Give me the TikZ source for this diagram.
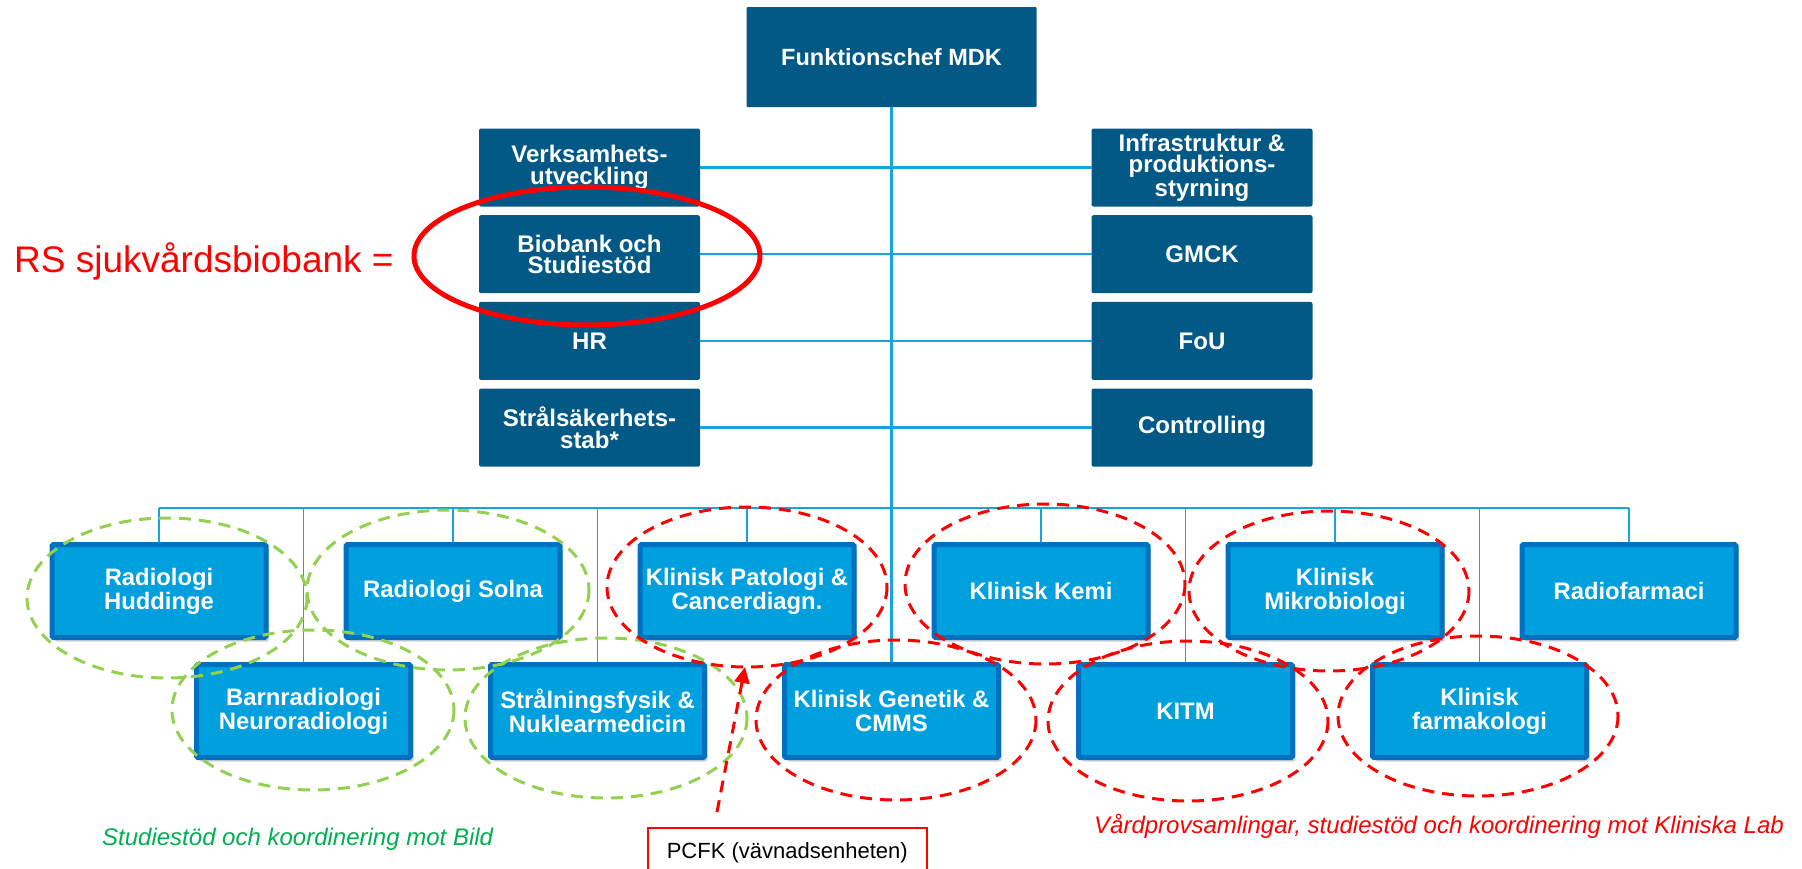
\documentclass[tikz,border=0pt]{standalone}
\usepackage{fontspec}
\setmainfont{Liberation Sans}
\usepackage{tikz}
\usetikzlibrary{positioning, arrows.meta, shadows}

\definecolor{mdkdark}{RGB}{3,89,134}
\definecolor{unitfill}{RGB}{0,160,223}
\definecolor{unitline}{RGB}{0,112,192}
\definecolor{linkblue}{RGB}{20,165,225}
\definecolor{ringgreen}{RGB}{146,208,80}
\definecolor{textgreen}{RGB}{0,176,80}

\begin{document}
\begin{tikzpicture}[x=1pt, y=-1pt]

	\tikzstyle{chefblock} = [rectangle, fill=mdkdark, text=white, minimum width=290pt, minimum height=100pt, inner sep=0pt, outer sep=0pt, rounded corners=1pt, align=center, font=\bfseries\fontsize{23.5}{24}\selectfont]
	\tikzstyle{staff} = [rectangle, fill=mdkdark, text=white, minimum width=221pt, minimum height=78pt, inner sep=0pt, outer sep=0pt, rounded corners=2pt, align=center, font=\bfseries\fontsize{24}{21.5}\selectfont]
	\tikzstyle{unit} = [rectangle, draw=unitline, line width=5pt, fill=unitfill, text=white, minimum width=214pt, minimum height=93pt, inner sep=0pt, rounded corners=1.5pt, align=center, drop shadow={shadow xshift=3pt, shadow yshift=-4pt, opacity=0.35}, font=\bfseries\fontsize{23.8}{24}\selectfont]
	\tikzstyle{line} = [draw=linkblue, line width=2.5pt]
	\tikzstyle{thinline} = [draw=linkblue, line width=1.6pt]
	\tikzstyle{greenring} = [draw=ringgreen, line width=3pt, dash pattern=on 12pt off 8pt]
	\tikzstyle{redring} = [draw=red, line width=3pt, dash pattern=on 12pt off 8pt]
	\tikzstyle{pointer} = [draw=red, line width=3pt, dash pattern=on 12pt off 8pt, -{Triangle[length=16pt, width=15pt]}]

	\useasboundingbox (0,0) rectangle (1802,868);

	% ledning och stab
	\node [chefblock] (chef) at (891.5,57) {Funktionschef MDK};
	\node [staff] (vu) at (589.5,167.5) {Verksamhets-\\utveckling};
	\node [staff, below=8.7pt of vu] (bio) {Biobank och\\Studiestöd};
	\node [staff, below=8.7pt of bio] (hr) {HR};
	\node [staff, below=8.7pt of hr] (stab) {Strålsäkerhets-\\stab*};
	\node [staff] (infra) at (1202,167.5) {Infrastruktur \&\\produktions-\\styrning};
	\node [staff, below=8.7pt of infra] (gmck) {GMCK};
	\node [staff, below=8.7pt of gmck] (fou) {FoU};
	\node [staff, below=8.7pt of fou] (ctrl) {Controlling};

	% funktionsområden
	\coordinate (bus) at (0,508);
	\node [unit] (hud) at (159,591) {Radiologi\\Huddinge};
	\node [unit, right=75pt of hud] (sol) {Radiologi Solna};
	\node [unit, right=75pt of sol] (pat) {Klinisk Patologi \&\\Cancerdiagn.};
	\node [unit, right=75pt of pat] (kemi) {Klinisk Kemi};
	\node [unit, right=75pt of kemi] (mikro) {Klinisk\\Mikrobiologi};
	\node [unit, right=75pt of mikro] (rf) {Radiofarmaci};
	\node [unit] (barn) at (303.5,711) {Barnradiologi\\Neuroradiologi};
	\node [unit, right=75pt of barn] (stral) {Strålningsfysik \&\\Nuklearmedicin};
	\node [unit, right=75pt of stral] (gen) {Klinisk Genetik \&\\CMMS};
	\node [unit, right=75pt of gen] (kitm) {KITM};
	\node [unit, right=75pt of kitm] (farm) {Klinisk\\farmakologi};

	\path [line] (chef.south) -- (gen.north);
	\path [line] (vu.east) -- (infra.west);
	\path [line] (bio.east) -- (gmck.west);
	\path [line] (hr.east) -- (fou.west);
	\path [line] (stab.east) -- (ctrl.west);
	\path [thinline] (hud.north |- bus) -- (rf.north |- bus);
	\foreach \b in {hud,sol,pat,kemi,mikro,rf,barn,stral,kitm,farm}
		\path [thinline] (\b.north |- bus) -- (\b.north);

	% markeringar
	\draw [greenring] (167,598) ellipse [x radius=140, y radius=80];
	\draw [greenring] (448,590) ellipse [x radius=141, y radius=80];
	\draw [greenring] (313,710) ellipse [x radius=141, y radius=80];
	\draw [greenring] (606,718) ellipse [x radius=141, y radius=80];
	\draw [redring] (747,587) ellipse [x radius=140, y radius=80];
	\draw [redring] (1045,584) ellipse [x radius=140, y radius=80];
	\draw [redring] (1329,591) ellipse [x radius=140, y radius=80];
	\draw [redring] (896,720) ellipse [x radius=140, y radius=80];
	\draw [redring] (1188,721) ellipse [x radius=140, y radius=80];
	\draw [redring] (1478,716) ellipse [x radius=140, y radius=80];
	\draw [red, line width=5pt] (587,256) ellipse [x radius=173, y radius=69];

	\node [anchor=base west, inner sep=0pt, text=red, font=\fontsize{37}{40}\selectfont] (rs) at (14,272) {RS sjukvårdsbiobank =};
	\node [anchor=base west, inner sep=0pt, text=textgreen, font=\itshape\fontsize{24}{28}\selectfont] (bild) at (102,845) {Studiestöd och koordinering mot Bild};
	\node [anchor=base west, inner sep=0pt, text=red, font=\itshape\fontsize{24}{28}\selectfont] (lab) at (1094,833) {Vårdprovsamlingar, studiestöd och koordinering mot Kliniska Lab};

	\node [draw=red, line width=1.5pt, fill=white, anchor=north west, inner sep=0pt, minimum width=279pt, minimum height=50pt, font=\fontsize{22}{24}\selectfont] (pcfk) at (647,827) {PCFK (vävnadsenheten)};
	\coordinate (pfrom) at (717,812);
	\coordinate (pto) at (745,667);
	\path [pointer] (pfrom) -- (pto);

\end{tikzpicture}
\end{document}
